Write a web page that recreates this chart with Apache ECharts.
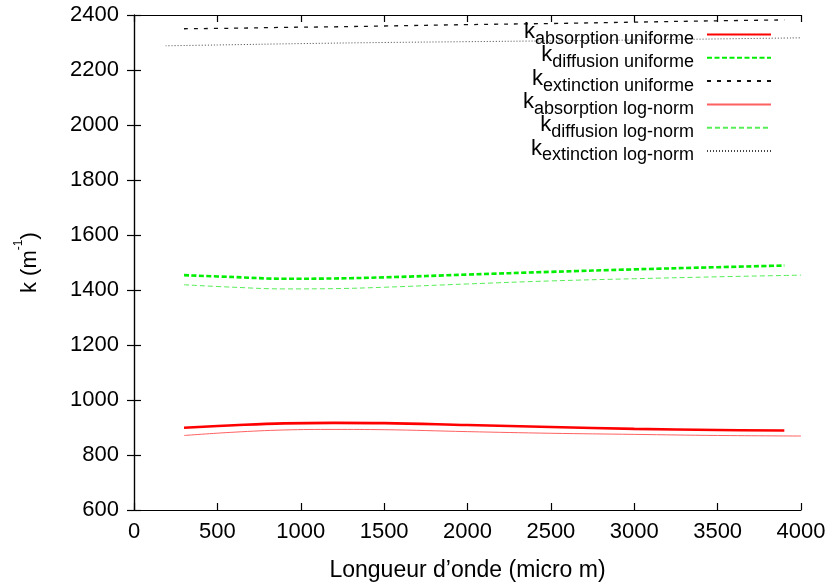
<!DOCTYPE html>
<html>
<head>
<meta charset="utf-8">
<script src="https://cdn.jsdelivr.net/npm/echarts@6/dist/echarts.min.js"></script>
<style>
html,body{margin:0;padding:0;background:#fff;}
#c{width:830px;height:585px;}
</style>
</head>
<body>
<div id="c"></div>
<script>
// Wavelengths (micro m)
const wlUniform = [300, 600, 900, 1200, 1500, 2000, 2500, 3000, 3500, 3900];
const wlLogNorm = [300, 600, 900, 1200, 1500, 2000, 2500, 3000, 3500, 4000];
const wlExtLogNorm = [190, 500, 1000, 1500, 2000, 2500, 3000, 3500, 4000];

// k values (m^-1)
const absUniform = [899, 908, 915, 917, 916, 909, 902, 895, 891, 889];
const diffUniform = [1454, 1447, 1441, 1442, 1446, 1456, 1466, 1475, 1483, 1489];
const extUniform = [2350, 2352, 2355, 2357, 2360, 2365, 2369, 2374, 2379, 2382];
const absLogNorm = [871, 883, 891, 893, 892, 885, 879, 875, 871, 869];
const diffLogNorm = [1419, 1410, 1404, 1405, 1410, 1422, 1433, 1441, 1448, 1454];
const extLogNorm = [2288, 2291, 2296, 2300, 2303, 2306, 2309, 2313, 2317];

const seriesNames = [
  'k absorption uniforme', 'k diffusion uniforme', 'k extinction uniforme',
  'k absorption log-norm', 'k diffusion log-norm', 'k extinction log-norm'
];
const legendSubs = [
  'absorption uniforme', 'diffusion uniforme', 'extinction uniforme',
  'absorption log-norm', 'diffusion log-norm', 'extinction log-norm'
];

const xTicks = { min: 0, max: 4000, interval: 500 };
const yTicks = { min: 600, max: 2400, interval: 200 };

function pairs(xs, ys) { return xs.map((x, i) => [x, ys[i]]); }

const FONT = 'Liberation Sans';

const axisCommon = {
  axisLine: { show: true, lineStyle: { color: '#000', width: 1.2 } },
  axisTick: { show: true, inside: true, length: 7, lineStyle: { color: '#000', width: 1.2 } },
  splitLine: { show: false }
};

function mk(name, xs, ys, color, width, type) {
  return {
    name: name, type: 'line', data: pairs(xs, ys), xAxisIndex: 0, yAxisIndex: 0,
    smooth: 0.4, symbol: 'none', showSymbol: false,
    lineStyle: { color: color, width: width, type: type },
    itemStyle: { color: color },
    emphasis: { disabled: true }, animation: false
  };
}

const plain = function (v) { return String(v); };

const chart = echarts.init(document.getElementById('c'), null, { renderer: 'canvas' });
chart.setOption({
  backgroundColor: '#fff',
  animation: false,
  grid: { left: 134, right: 29, top: 15, bottom: 75, containLabel: false, outerBoundsMode: 'none' },
  xAxis: [
    Object.assign({
      type: 'value', position: 'bottom', min: xTicks.min, max: xTicks.max, interval: xTicks.interval,
      name: 'Longueur d\u2019onde (micro m)', nameLocation: 'middle', nameGap: 49,
      nameTextStyle: { fontFamily: FONT, fontSize: 23, color: '#000' },
      axisLabel: { fontFamily: FONT, fontSize: 22, color: '#000', margin: 11, formatter: plain }
    }, axisCommon),
    Object.assign({
      type: 'value', position: 'top', min: xTicks.min, max: xTicks.max, interval: xTicks.interval,
      axisLabel: { show: false }
    }, axisCommon)
  ],
  yAxis: [
    Object.assign({
      type: 'value', position: 'left', min: yTicks.min, max: yTicks.max, interval: yTicks.interval,
      name: '{m|k (m}{sup|-1}{m|)}{h| }', nameLocation: 'middle', nameGap: 93,
      nameTextStyle: {
        fontFamily: FONT, fontSize: 22, color: '#000',
        rich: {
          m: { fontFamily: FONT, fontSize: 22, lineHeight: 22, verticalAlign: 'bottom', color: '#000' },
          sup: { fontFamily: FONT, fontSize: 12, lineHeight: 12, verticalAlign: 'top', color: '#000' },
          h: { fontFamily: FONT, fontSize: 1, lineHeight: 28, color: '#000' }
        }
      },
      axisLabel: { fontFamily: FONT, fontSize: 22, color: '#000', margin: 15, formatter: plain }
    }, axisCommon),
    Object.assign({
      type: 'value', position: 'right', min: yTicks.min, max: yTicks.max, interval: yTicks.interval,
      axisLabel: { show: false }
    }, axisCommon)
  ],
  legend: {
    data: seriesNames,
    orient: 'vertical',
    align: 'right',
    right: 58,
    top: 21,
    padding: 0,
    itemWidth: 64,
    itemHeight: 10,
    itemGap: -3.7,
    selectedMode: false,
    itemStyle: { opacity: 0 },
    formatter: function (name) {
      const i = seriesNames.indexOf(name);
      return '{k|k}{s|' + legendSubs[i] + '}{h| }';
    },
    textStyle: {
      fontFamily: FONT, color: '#000',
      rich: {
        k: { fontFamily: FONT, fontSize: 22, lineHeight: 22, verticalAlign: 'top', color: '#000' },
        s: { fontFamily: FONT, fontSize: 18, lineHeight: 18, verticalAlign: 'bottom', color: '#000' },
        h: { fontFamily: FONT, fontSize: 1, lineHeight: 27, width: 8, color: '#000' }
      }
    }
  },
  series: [
    mk(seriesNames[0], wlUniform, absUniform, '#ff0000', 2.6, 'solid'),
    mk(seriesNames[1], wlUniform, diffUniform, '#00ee00', 2.6, [5, 2.5]),
    mk(seriesNames[2], wlUniform, extUniform, '#111111', 1.3, [4, 6]),
    mk(seriesNames[3], wlLogNorm, absLogNorm, '#ff6060', 1, 'solid'),
    mk(seriesNames[4], wlLogNorm, diffLogNorm, '#55ee55', 1, [5, 3]),
    mk(seriesNames[5], wlExtLogNorm, extLogNorm, '#444444', 1, [1, 2])
  ]
});
</script>
</body>
</html>
